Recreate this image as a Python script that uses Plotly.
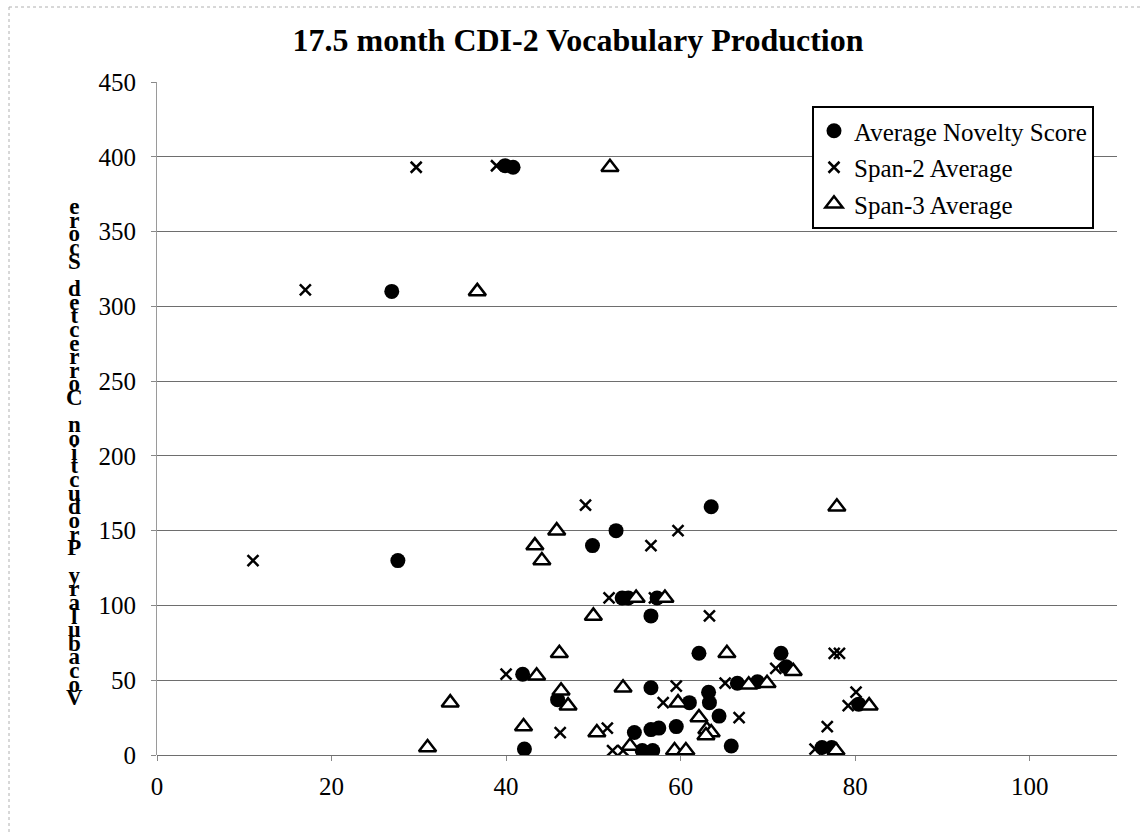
import plotly.graph_objects as go

# ---- data ----
novelty_x = [39.9, 40.8, 26.9, 27.6, 52.6, 49.9, 53.3, 54.0, 57.3, 56.6, 63.5, 62.1, 71.5, 72.1,
             41.9, 56.6, 66.5, 68.8, 63.2, 45.9, 61.0, 63.3, 80.4, 64.4, 59.5, 57.5, 56.6, 54.7,
             65.8, 42.1, 55.6, 56.8, 76.2, 77.3]
novelty_y = [394, 393, 310, 130, 150, 140, 105, 105, 105, 93, 166, 68, 68, 59,
             54, 45, 48, 49, 42, 37, 35, 35, 34, 26, 19, 18, 17, 15,
             6, 4, 3, 3, 5, 5]

span2_x = [29.7, 38.9, 17.0, 11.0, 49.1, 59.7, 56.6, 51.8, 57.0, 63.3, 77.6, 78.2, 70.9,
           40.0, 65.1, 59.5, 80.1, 58.0, 79.2, 66.7, 76.8, 51.6, 46.2, 52.2, 53.4, 75.4]
span2_y = [393, 394, 311, 130, 167, 150, 140, 105, 105, 93, 68, 68, 58,
           54, 48, 46, 42, 35, 33, 25, 19, 18, 15, 3, 3, 4]

span3_x = [51.9, 36.7, 77.9, 45.8, 43.3, 44.1, 54.9, 58.2, 50.0, 46.1, 65.3, 72.9, 43.5,
           67.8, 69.9, 53.4, 46.3, 59.7, 33.6, 47.1, 81.6, 62.1, 42.0, 63.0, 63.5, 50.4,
           62.9, 54.2, 31.0, 59.3, 60.6, 77.8]
span3_y = [393, 310, 166, 150, 140, 130, 105, 105, 93, 68, 68, 56, 53,
           47, 48, 45, 43, 35, 35, 33, 33, 25, 19, 17, 15, 15,
           13, 6, 5, 3, 3, 3]

x_ticks = [0, 20, 40, 60, 80, 100]
y_ticks = [0, 50, 100, 150, 200, 250, 300, 350, 400, 450]

title_text = "17.5 month CDI-2 Vocabulary Production"
y_label = "Vocabulary Production Corrected Score"
series_names = ["Average Novelty Score", "Span-2 Average", "Span-3 Average"]

# ---- figure ----
W, H = 1143, 832
ML, MR, MT, MB = 157, 26, 82, 77
serif = "Liberation Serif, Times New Roman, serif"

fig = go.Figure()
fig.add_trace(go.Scatter(
    x=novelty_x, y=novelty_y, mode="markers", name=series_names[0],
    legendgroup="a",
    marker=dict(symbol="circle", size=15, color="black", line=dict(width=0))))
fig.add_trace(go.Scatter(
    x=span2_x, y=span2_y, mode="markers", name=series_names[1],
    legendgroup="b",
    marker=dict(symbol="x-thin-open", size=11, color="black",
                line=dict(width=2.5, color="black"))))
fig.add_trace(go.Scatter(
    x=span3_x, y=span3_y, mode="markers", name=series_names[2],
    legendgroup="c",
    marker=dict(symbol="triangle-up", size=15, color="white",
                line=dict(width=2.5, color="black"))))

# stacked (upright) y-axis label: one text, characters listed bottom-to-top as in the original.
# The small base font sets the tight line pitch; each glyph is drawn larger inside a span.
chars = list(reversed(y_label))
lines = []
for ch in chars:
    if ch == " ":
        lines.append("&nbsp;")
    else:
        lines.append('<span style="font-size:23px"><b>' + ch + "</b></span>")
stacked_label = "<br>".join(lines)

def px_to_paper_x(px):
    return (px - ML) / (W - ML - MR)

def px_to_paper_y(py):
    return (H - MB - py) / (H - MT - MB)

annotations = [dict(
    text=stacked_label, xref="paper", yref="paper",
    x=px_to_paper_x(74), y=px_to_paper_y(192), showarrow=False,
    xanchor="center", yanchor="top", align="center",
    font=dict(family=serif, size=10.5, color="black"))]

shapes = [
    dict(type="line", xref="paper", yref="paper",
         x0=px_to_paper_x(9), x1=px_to_paper_x(1140), y0=px_to_paper_y(7), y1=px_to_paper_y(7),
         line=dict(color="#b0b0b0", width=1, dash="dot")),
    dict(type="line", xref="paper", yref="paper",
         x0=px_to_paper_x(9), x1=px_to_paper_x(9), y0=px_to_paper_y(7), y1=px_to_paper_y(832),
         line=dict(color="#b0b0b0", width=1, dash="dot")),
]

fig.update_layout(
    width=W, height=H,
    margin=dict(l=ML, r=MR, t=MT, b=MB, pad=0),
    paper_bgcolor="white", plot_bgcolor="white",
    font=dict(family=serif, size=25, color="black"),
    title=dict(text="<b>" + title_text + "</b>", xref="container", yref="container",
               x=578 / W, y=1 - 40 / H, xanchor="center", yanchor="middle",
               font=dict(family=serif, size=32, color="black")),
    showlegend=True,
    legend=dict(x=px_to_paper_x(812), y=px_to_paper_y(106), xanchor="left", yanchor="top",
                bgcolor="white", bordercolor="black", borderwidth=2,
                font=dict(family=serif, size=25, color="black"),
                traceorder="grouped", tracegroupgap=1, itemwidth=30),
    xaxis=dict(range=[0, 110], tickmode="array", tickvals=x_ticks,
               ticktext=[str(v) for v in x_ticks],
               showgrid=False, zeroline=False, showline=False,
               ticks="outside", ticklen=5, tickcolor="#888", ticklabelstandoff=4,
               tickfont=dict(family=serif, size=25, color="black")),
    yaxis=dict(range=[0, 450], tickmode="array", tickvals=y_ticks,
               ticktext=[str(v) for v in y_ticks],
               showgrid=True, gridcolor="#6e6e6e", gridwidth=1,
               zeroline=True, zerolinecolor="#6e6e6e", zerolinewidth=1,
               showline=True, linecolor="#9a9a9a", linewidth=1,
               ticks="outside", ticklen=5, tickcolor="#888", ticklabelstandoff=10,
               tickfont=dict(family=serif, size=25, color="black")),
    annotations=annotations,
    shapes=shapes,
)

fig.write_html("out.html", config={"displayModeBar": False},
               post_script="document.body.style.margin='0';document.body.style.overflow='hidden';")
